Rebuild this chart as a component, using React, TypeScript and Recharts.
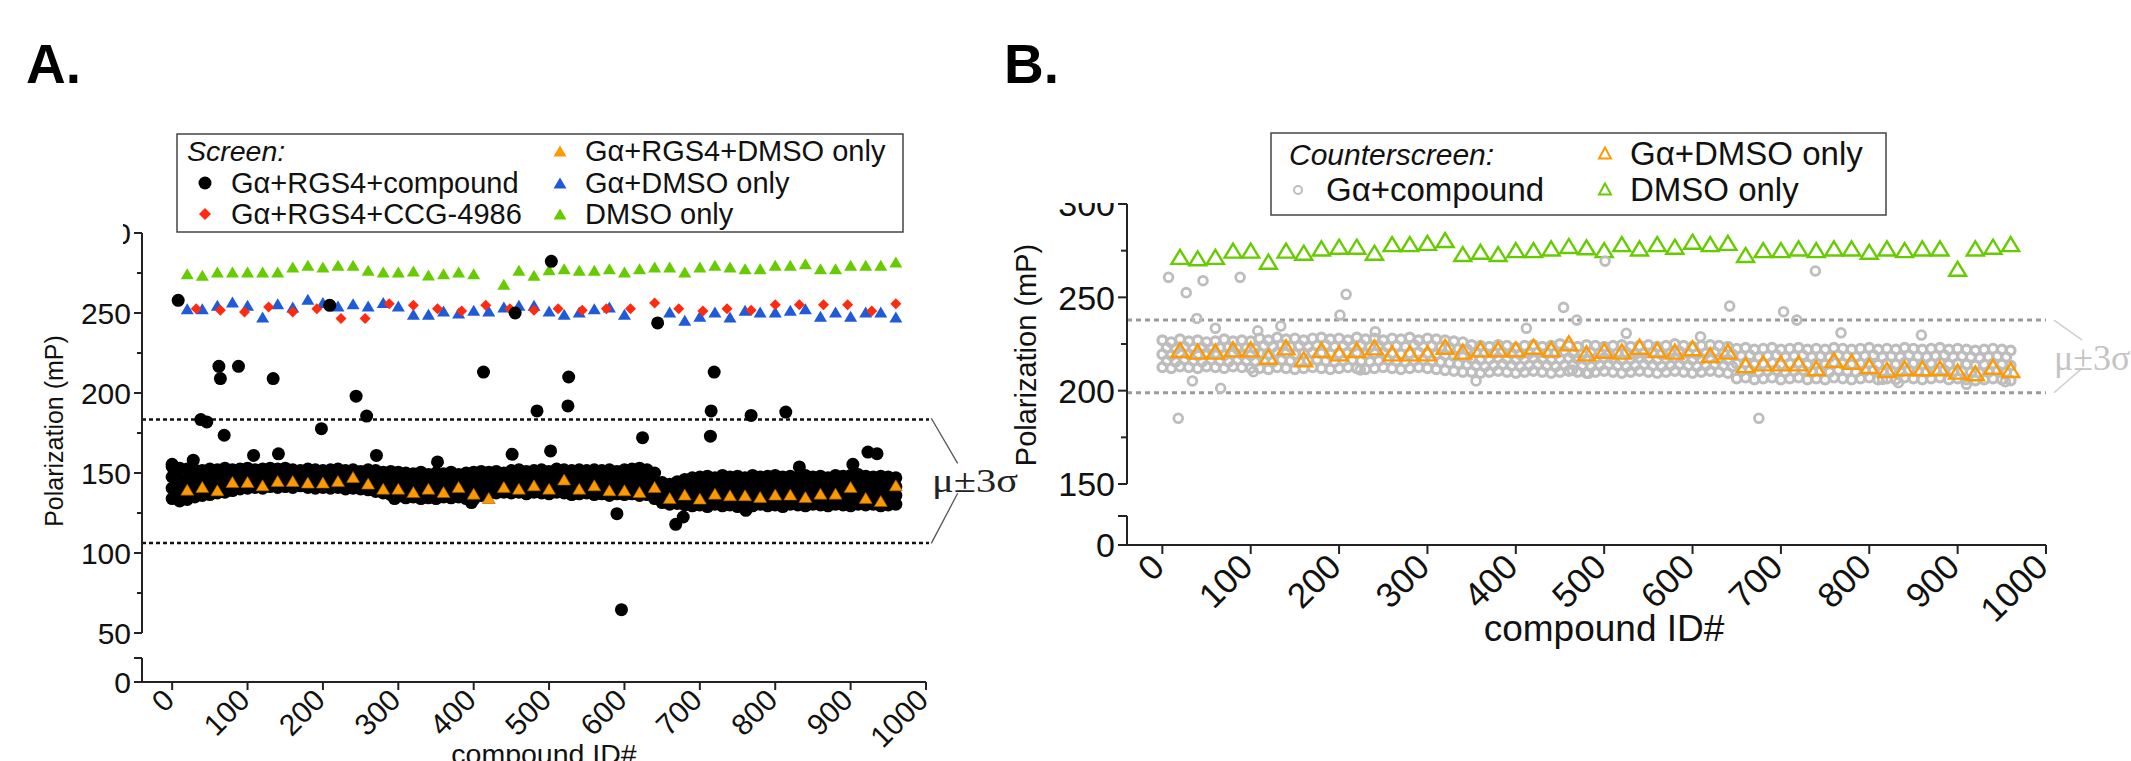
import { ScatterChart, Scatter, XAxis, YAxis, ReferenceLine } from "recharts"

const FONT = '"Liberation Sans", Arial, Helvetica, sans-serif'
const SERIF = '"Liberation Serif", "Times New Roman", serif'

// ---------- shared ----------
const xTicks = [0, 100, 200, 300, 400, 500, 600, 700, 800, 900, 1000]
const bandIds = [0, 10, 20, 30, 40, 50, 60, 70, 80, 90, 100, 110, 120, 130, 140, 150, 160, 170, 180, 190, 200, 210, 220, 230, 240, 250, 260, 270, 280, 290, 300, 310, 320, 330, 340, 350, 360, 370, 380, 390, 400, 410, 420, 430, 440, 450, 460, 470, 480, 490, 500, 510, 520, 530, 540, 550, 560, 570, 580, 590, 600, 610, 620, 630, 640, 650, 660, 670, 680, 690, 700, 710, 720, 730, 740, 750, 760, 770, 780, 790, 800, 810, 820, 830, 840, 850, 860, 870, 880, 890, 900, 910, 920, 930, 940, 950, 960]
const bandIdsHalf = [5, 15, 25, 35, 45, 55, 65, 75, 85, 95, 105, 115, 125, 135, 145, 155, 165, 175, 185, 195, 205, 215, 225, 235, 245, 255, 265, 275, 285, 295, 305, 315, 325, 335, 345, 355, 365, 375, 385, 395, 405, 415, 425, 435, 445, 455, 465, 475, 485, 495, 505, 515, 525, 535, 545, 555, 565, 575, 585, 595, 605, 615, 625, 635, 645, 655, 665, 675, 685, 695, 705, 715, 725, 735, 745, 755, 765, 775, 785, 795, 805, 815, 825, 835, 845, 855, 865, 875, 885, 895, 905, 915, 925, 935, 945, 955]
const ids20 = [20, 40, 60, 80, 100, 120, 140, 160, 180, 200, 220, 240, 260, 280, 300, 320, 340, 360, 380, 400, 420, 440, 460, 480, 500, 520, 540, 560, 580, 600, 620, 640, 660, 680, 700, 720, 740, 760, 780, 800, 820, 840, 860, 880, 900, 920, 940, 960]

// ---------- panel A: screen ----------
const yTicksA = [50, 75, 100, 125, 150, 175, 200, 225, 250, 275, 300]
const yLabelsA = [50, 100, 150, 200, 250, 300]
const sigmaA = [183.4, 106.3]

const greenIdsA = [20, 40, 60, 80, 100, 120, 140, 160, 180, 200, 220, 240, 260, 280, 300, 320, 340, 360, 380, 400, 440, 460, 480, 500, 520, 540, 560, 580, 600, 620, 640, 660, 680, 700, 720, 740, 760, 780, 800, 820, 840, 860, 880, 900, 920, 940, 960]
const greenA = [274.6, 273.6, 275.6, 275.6, 275.6, 275.6, 275.6, 278.7, 279.8, 278.7, 279.8, 279.8, 276.7, 275.6, 275.6, 276.3, 273.8, 274.6, 275.6, 274.6, 267.9, 276.7, 273.6, 277.1, 277.7, 276.7, 276.7, 277.7, 275.6, 277.7, 278.7, 278.7, 275.6, 278.7, 279.8, 278.7, 277.7, 277.7, 279.8, 279.8, 280.8, 277.7, 277.7, 279.8, 279.8, 279.8, 281.9]

const blueIdsA = [20, 40, 60, 80, 100, 120, 140, 160, 180, 200, 220, 240, 260, 280, 300, 320, 340, 360, 380, 400, 420, 440, 460, 480, 500, 520, 540, 560, 580, 600, 660, 680, 700, 720, 740, 760, 780, 800, 820, 840, 860, 880, 900, 920, 940, 960]
const blueA = [252.7, 252.7, 254.8, 256.9, 254.8, 247.5, 255.8, 253.8, 258.6, 256.5, 254.4, 255.8, 254.4, 256.5, 254.4, 249.2, 249.2, 251.3, 250, 251.7, 251.3, 253.8, 254.8, 254.8, 251.3, 249.2, 250.6, 252.7, 253.8, 249.2, 250.6, 245.4, 247.9, 250.6, 247.5, 251.7, 250.6, 250.6, 251.7, 252.7, 247.9, 250.6, 247.9, 250.6, 250.6, 247.5]

const redIdsA = [32, 64, 96, 128, 160, 192, 224, 256, 288, 320, 352, 384, 416, 448, 480, 512, 544, 576, 608, 640, 672, 704, 736, 768, 800, 832, 864, 896, 928, 960]
const redA = [252.7, 251.7, 250.6, 253.8, 250.6, 252.7, 246.5, 246.5, 255.8, 254.8, 252.7, 251.3, 254.8, 252.7, 251.7, 252.7, 251.7, 252.7, 252.7, 256.3, 252.7, 251.3, 252.7, 251.7, 255.2, 255.2, 255.2, 255.2, 251.3, 255.8]

const orangeA = [139.6, 141.3, 139.2, 144.4, 144.4, 142.3, 145, 145, 144, 144, 145, 147.5, 143.4, 140.2, 140.2, 138.1, 140.2, 138.1, 141.3, 137.1, 134.4, 141.3, 140.2, 142.3, 140.2, 145.9, 140.2, 142.3, 139.2, 139.2, 138.1, 141.3, 134.4, 136.5, 134, 137.1, 136.1, 136.1, 135, 136.5, 136.5, 135, 137.1, 137.1, 141.3, 134.4, 132.5, 142.3]

// dense band of compound wells (four rows read across the band)
const bandTopA = [154, 153, 152.5, 152, 151.5, 152.5, 152, 153, 152, 152.5, 153, 152, 152.5, 153, 152.5, 153, 152, 151.5, 152.5, 152, 151.5, 152, 152.5, 151.5, 152, 151, 152, 151.5, 150.5, 151, 150.5, 150, 149.5, 150.5, 149, 150, 149.5, 150.5, 149, 150, 150.5, 151, 150.5, 151, 150, 151.5, 152, 151, 151.5, 152, 151, 152.5, 152, 151.5, 152, 151.5, 152, 151.5, 152, 151, 152, 152.5, 153, 152, 150, 144, 143, 144.5, 146, 147, 147.5, 148, 147, 148.5, 147.5, 148, 147, 148.5, 147.5, 148, 148.5, 147.5, 148, 147, 148.5, 147.5, 148, 147, 148.5, 148, 148.5, 149, 148, 147.5, 148, 147.5, 147]
const bandUpperA = [147.5, 146, 146, 146.5, 146.5, 147, 147, 148, 147.5, 148, 149, 148.5, 148.5, 149, 148.5, 149, 148.5, 148.5, 148.5, 148, 148, 148, 148.5, 147.5, 148, 147.5, 148, 147, 146, 146, 145.5, 145, 144.5, 145, 144, 144.5, 144.5, 145, 144.5, 144.5, 145, 146, 146, 146.5, 146, 147, 147.5, 146.5, 147, 147, 146.5, 147.5, 147, 146.5, 147, 147, 147, 146.5, 146.5, 146.5, 147, 147.5, 147.5, 147, 144.5, 140, 139, 140, 140.5, 141, 141.5, 141.5, 141.5, 142, 141.5, 141.5, 141.5, 142, 142, 142, 142, 141, 142, 141.5, 142, 142, 142, 141, 142.5, 142, 142, 143, 142, 142, 142, 141.5, 141.5]
const bandLowerA = [140.5, 139.5, 140, 141, 141, 142, 142.5, 143, 143.5, 144, 144.5, 144.5, 144.5, 145.5, 145, 145.5, 144.5, 145, 145, 144.5, 144.5, 144.5, 145, 144, 144.5, 143.5, 143.5, 143, 142, 141.5, 140.5, 139.5, 140, 139.5, 139.5, 139.5, 140, 140, 139.5, 139.5, 139, 141, 141.5, 142, 142, 142, 142.5, 141.5, 142.5, 142.5, 141.5, 143, 142.5, 141.5, 142, 142, 141.5, 142, 141.5, 141.5, 141.5, 142, 141.5, 141.5, 139.5, 135.5, 134.5, 135.5, 135.5, 135.5, 136, 135.5, 136, 136, 136, 135.5, 135.5, 136, 136, 135.5, 136, 135.5, 136.5, 135.5, 136, 136, 136, 135.5, 136.5, 136, 136, 136.5, 136, 136, 135.5, 136, 136]
const bandBottomA = [134, 132.5, 133.5, 135, 136, 136.5, 137.5, 138, 139, 140, 140.5, 141, 140.5, 141.5, 141, 141.5, 141, 142, 141, 140.5, 141, 140.5, 141, 140, 140.5, 140, 139.5, 138.5, 137.5, 136.5, 135.5, 134.5, 135, 134, 134.5, 134, 135, 134.5, 135, 134, 133.5, 136, 137, 137.5, 138, 137.5, 138, 137, 138, 137.5, 137, 138, 137.5, 136.5, 137, 137.5, 136.5, 137, 136, 137, 136.5, 137, 136, 136.5, 134, 131.5, 130.5, 131, 130, 129.5, 130, 129, 130.5, 129.5, 130, 129, 130, 129.5, 130.5, 129.5, 130, 129, 130.5, 130, 129.5, 130.5, 130, 129.5, 130.5, 130, 129.5, 130.5, 130, 130.5, 129.5, 130, 130.5]

const hitIdsA = [0, 8, 28, 38, 46, 62, 64, 69, 88, 108, 134, 141, 198, 209, 244, 258, 271, 295, 352, 397, 413, 451, 455, 484, 502, 503, 525, 526, 590, 596, 624, 644, 668, 678, 714, 715, 719, 761, 768, 814, 832, 903, 923, 935]
const hitsA = [155.4, 257.9, 158, 183.4, 181.9, 216.7, 209, 173.6, 216.7, 161, 209, 162, 177.7, 254.8, 198, 185.6, 161, 134, 156.9, 131.5, 213.1, 161.7, 250, 188.8, 163.8, 282.3, 191.9, 210, 124.6, 64.6, 172.1, 243.8, 117.9, 122.5, 173, 188.8, 213.1, 126.7, 186, 188.1, 153.8, 155.4, 163.1, 162.1]

// ---------- panel B: counterscreen ----------
const yTicksB = [150, 175, 200, 225, 250, 275, 300]
const yLabelsB = [150, 200, 250, 300]
const sigmaB = [237.8, 198.9]

const greenB = [271.7, 270.9, 271.7, 275, 275, 269.1, 275, 273.9, 276.2, 277.1, 277.1, 273.9, 278.5, 278.5, 279.2, 280.7, 273.2, 274.4, 273.2, 275.3, 275.3, 276.2, 277.5, 276.8, 275.3, 278.5, 276.2, 278.5, 277.1, 279.8, 278.5, 279.2, 272.7, 275.3, 275.3, 276.2, 275.3, 276.2, 276.2, 274.4, 276.2, 275.3, 276.2, 276.2, 265.3, 276.2, 277.1, 278.5]
const orangeB = [221.8, 220.9, 220.9, 222.1, 222.1, 218.2, 223.2, 216.8, 221.8, 220, 221.8, 223.2, 220, 220, 220, 223.5, 220.9, 222.1, 222.1, 222.1, 223.5, 222.1, 225.4, 220, 221.4, 220.9, 223.5, 221.8, 220.9, 222.7, 219.1, 220.9, 213.7, 214.6, 214.6, 214.6, 212, 216.4, 215.5, 213.2, 211.1, 212, 212, 212, 210.2, 209.3, 212.8, 211.1]

const bandRow1B = [227, 226, 227.5, 226.5, 227, 226, 226.5, 227.5, 226.5, 227, 226.5, 228, 227, 228.5, 227.5, 228, 227, 228, 228.5, 227.5, 228, 227, 228.5, 227.5, 228, 227, 228, 227.5, 228.5, 227, 228, 227.5, 227, 226.5, 226, 224.5, 224, 223.5, 224.5, 224, 223, 224, 224.5, 223.5, 224, 225, 224, 223.5, 224.5, 224, 223.5, 224, 224.5, 223.5, 224, 224.5, 223.5, 224, 225, 224, 223.5, 224, 224.5, 224, 223.5, 222.5, 223, 222, 222.5, 223, 222, 222.5, 223, 222, 222.5, 222, 223, 222.5, 222, 222.5, 223, 222, 222.5, 222, 223, 222.5, 222, 222.5, 223, 222, 222.5, 222, 221.5, 222, 222.5, 222, 221.5]
const bandRow2B = [223, 222.5, 223.5, 222.5, 223, 222.5, 223, 223.5, 222.5, 223, 222.5, 224, 223.5, 224.5, 223.5, 224, 223.5, 224, 224.5, 223.5, 224, 223.5, 224.5, 223.5, 224, 223.5, 224, 223.5, 224.5, 223.5, 224, 223.5, 223, 222.5, 222, 220.5, 220, 220, 220.5, 220, 219.5, 220, 220.5, 220, 220, 221, 220, 219.5, 220.5, 220, 219.5, 220, 220.5, 219.5, 220, 220.5, 219.5, 220, 221, 220, 219.5, 220, 220.5, 220, 219.5, 218.5, 219, 218, 218.5, 219, 218, 218.5, 219, 218, 218.5, 218, 219, 218.5, 218, 218.5, 219, 218, 218.5, 218, 219, 218.5, 218, 218.5, 219, 218, 218.5, 218, 217.5, 218, 218.5, 218]
const bandRow3B = [219.5, 219, 220, 219.5, 219, 220, 219.5, 219, 220, 219.5, 219, 220, 219.5, 220.5, 220, 219.5, 220, 220.5, 220, 219.5, 220, 220.5, 220, 219.5, 220, 220.5, 220, 219.5, 220, 220.5, 220, 219.5, 219, 218.5, 218, 217, 216.5, 217, 217.5, 217, 216.5, 217, 217.5, 217, 216.5, 217, 217.5, 217, 216.5, 217, 217.5, 217, 216.5, 217, 217.5, 217, 216.5, 217, 217.5, 217, 216.5, 217, 217.5, 217, 216.5, 214.5, 215, 214, 214.5, 215, 214, 214.5, 215, 214, 214.5, 214, 215, 214.5, 214, 214.5, 215, 214, 214.5, 214, 215, 214.5, 214, 214.5, 215, 214, 214.5, 214, 213.5, 214, 214.5, 214, 213.5]
const bandRow4B = [216, 215.5, 216.5, 216, 215.5, 216.5, 216, 215.5, 216.5, 216, 215.5, 216, 215.5, 216.5, 216, 215.5, 216, 216.5, 216, 215.5, 216, 216.5, 216, 215.5, 216, 216.5, 216, 215.5, 216, 216.5, 216, 215.5, 215, 214.5, 214, 213.5, 213, 213.5, 214, 213.5, 213, 213.5, 214, 213.5, 213, 213.5, 214, 213.5, 213, 213.5, 214, 213.5, 213, 213.5, 214, 213.5, 213, 213.5, 214, 213.5, 213, 213.5, 214, 213.5, 213, 210.5, 211, 210, 210.5, 211, 210, 210.5, 211, 210, 210.5, 210, 211, 210.5, 210, 210.5, 211, 210, 210.5, 210, 211, 210.5, 210, 210.5, 211, 210, 210.5, 210, 209.5, 210, 210.5, 210]
const bandRow5B = [212.5, 212, 213, 212.5, 212, 213, 212.5, 212, 213, 212.5, 212, 212, 211.5, 212.5, 212, 211.5, 212, 212.5, 212, 211.5, 212, 212.5, 212, 211.5, 212, 212.5, 212, 211.5, 212, 212.5, 212, 211.5, 211, 210.5, 210, 210, 209.5, 210, 210.5, 210, 209.5, 210, 210.5, 210, 209.5, 210, 210.5, 210, 209.5, 210, 210.5, 210, 209.5, 210, 210.5, 210, 209.5, 210, 210.5, 210, 209.5, 210, 210.5, 210, 209.5, 206.5, 207, 206, 206.5, 207, 206, 206.5, 207, 206, 206.5, 206, 207, 206.5, 206, 206.5, 207, 206, 206.5, 206, 207, 206.5, 206, 206.5, 207, 206, 206.5, 206, 205.5, 206, 206.5, 206, 205.5]

const hitIdsB = [7, 18, 27, 34, 39, 46, 60, 66, 88, 103, 108, 134, 201, 208, 224, 241, 355, 412, 454, 464, 469, 482, 501, 525, 609, 642, 675, 703, 718, 739, 768, 815, 833, 859, 910, 954]
const hitsB = [260.7, 185.2, 252.5, 205.2, 238.7, 258.9, 233.4, 201.3, 260.7, 210.2, 232.1, 234.6, 240.5, 251.6, 211.1, 231.6, 205.2, 233.4, 244.6, 211, 237.8, 209.3, 269.4, 230.7, 228.9, 245.3, 185.2, 242.3, 237.8, 264.1, 231, 206, 204.3, 229.8, 203.4, 204.8]

// ---------- helpers ----------
const pts = (xs: number[], ys: number[]) => xs.map((x, i) => ({ x, y: ys[i] }))

const dot = (r: number, fill: string) => (p: any) => <circle cx={p.cx} cy={p.cy} r={r} fill={fill} />
const ring = (r: number, stroke: string, sw: number) => (p: any) => (
    <circle cx={p.cx} cy={p.cy} r={r} fill="none" stroke={stroke} strokeWidth={sw} />
)
const nothing = () => <g />
const triPath = (cx: number, cy: number, w: number, h: number) =>
    `${cx},${cy - h / 2} ${cx + w / 2},${cy + h / 2} ${cx - w / 2},${cy + h / 2}`
const tri = (w: number, h: number, fill: string, stroke = "none", sw = 0) => (p: any) => (
    <polygon points={triPath(p.cx, p.cy, w, h)} fill={fill} stroke={stroke} strokeWidth={sw} />
)
const diamond = (s: number, fill: string) => (p: any) => (
    <polygon points={`${p.cx},${p.cy - s / 2} ${p.cx + s / 2},${p.cy} ${p.cx},${p.cy + s / 2} ${p.cx - s / 2},${p.cy}`} fill={fill} />
)

const makeYTick = (labels: number[], fs: number, major: number, minor: number) => (props: any) => {
    const { x, y, payload } = props
    const isMajor = labels.includes(payload.value)
    return (
        <g>
            <line x1={x - (isMajor ? major : minor)} x2={x} y1={y} y2={y} stroke="#222" strokeWidth={2} />
            {isMajor && (
                <text x={x - major - 3} y={y} dy="0.36em" textAnchor="end" fontSize={fs} fontFamily={FONT} fill="#111">
                    {payload.value}
                </text>
            )}
        </g>
    )
}

const makeXTick = (fs: number, dx: number, dy: number, len: number) => (props: any) => {
    const { x, y, payload } = props
    const tx = x + dx
    const ty = y + dy
    return (
        <g>
            <line x1={x} x2={x} y1={y} y2={y + len} stroke="#222" strokeWidth={2} />
            <text x={tx} y={ty} transform={`rotate(-45 ${tx} ${ty})`} textAnchor="end" fontSize={fs} fontFamily={FONT} fill="#111">
                {payload.value}
            </text>
        </g>
    )
}

const axisLine = { stroke: "#222", strokeWidth: 2 }

function Panel({ left, top, width, height, margin, children }: any) {
    return (
        <div style={{ position: "absolute", left, top, width, height }}>
            <ScatterChart width={width} height={height} margin={margin}>
                {children}
            </ScatterChart>
        </div>
    )
}

export default function App() {
    const yTickA = makeYTick(yLabelsA, 30, 8, 5)
    const yTickB = makeYTick(yLabelsB, 34, 9, 6)
    return (
        <div style={{ position: "absolute", left: 0, top: 0, width: 2131, height: 761, background: "#fff", overflow: "hidden" }}>
            {/* ---- A upper (50-300) ---- */}
            <Panel left={0} top={0} width={1000} height={655} margin={{ top: 233, right: 74, bottom: 22, left: 0 }}>
                <XAxis type="number" dataKey="x" domain={[-40, 1000]} ticks={xTicks} hide />
                <YAxis type="number" dataKey="y" domain={[50, 300]} ticks={yTicksA} interval={0} width={142} tickSize={0} tickMargin={0} tickLine={false} axisLine={axisLine} tick={yTickA} allowDataOverflow />
                {sigmaA.map((v) => (
                    <ReferenceLine key={v} segment={[{ x: -40, y: v }, { x: 1004, y: v }]} stroke="#111" strokeWidth={2.5} strokeDasharray="4 3" ifOverflow="visible" />
                ))}
                <ReferenceLine segment={[{ x: 1007, y: 184.2 }, { x: 1042, y: 156 }]} stroke="#555" strokeWidth={1.3} ifOverflow="visible" />
                <ReferenceLine segment={[{ x: 1042, y: 137.3 }, { x: 1007, y: 106 }]} stroke="#555" strokeWidth={1.3} ifOverflow="visible" />
                <Scatter data={pts(greenIdsA, greenA)} shape={tri(13, 11, "#66CC00")} isAnimationActive={false} />
                <Scatter data={pts(blueIdsA, blueA)} shape={tri(13, 11, "#1F5BD8")} isAnimationActive={false} />
                <Scatter data={pts(redIdsA, redA)} shape={diamond(11, "#FF2A10")} isAnimationActive={false} />
                <Scatter data={[...pts(bandIds, bandTopA), ...pts(bandIds, bandUpperA), ...pts(bandIds, bandLowerA), ...pts(bandIds, bandBottomA)]} shape={dot(6.5, "#000")} isAnimationActive={false} />
                <Scatter data={pts(hitIdsA, hitsA)} shape={dot(6.5, "#000")} isAnimationActive={false} />
                <Scatter data={pts(ids20, orangeA)} shape={tri(13, 11, "#FF9900", "#9a5a00", 0.6)} isAnimationActive={false} />
            </Panel>
            {/* ---- A lower (0 segment + x axis) ---- */}
            <Panel left={0} top={600} width={1000} height={161} margin={{ top: 58, right: 74, bottom: 0, left: 0 }}>
                <XAxis type="number" dataKey="x" domain={[-40, 1000]} ticks={xTicks} interval={0} height={79} tickSize={0} tickMargin={0} tickLine={false} axisLine={axisLine} tick={makeXTick(30, 4, 20, 8)} allowDataOverflow />
                <YAxis type="number" dataKey="y" domain={[0, 15]} ticks={[0, 15]} interval={0} width={142} tickSize={0} tickMargin={0} tickLine={false} axisLine={axisLine} tick={makeYTick([0], 30, 8, 8)} allowDataOverflow />
                <Scatter data={pts(ids20, orangeA)} shape={nothing} isAnimationActive={false} />
            </Panel>

            {/* ---- B upper (150-300) ---- */}
            <Panel left={1000} top={0} width={1131} height={520} margin={{ top: 204, right: 85, bottom: 36, left: 0 }}>
                <XAxis type="number" dataKey="x" domain={[-40, 1000]} ticks={xTicks} hide />
                <YAxis type="number" dataKey="y" domain={[150, 300]} ticks={yTicksB} interval={0} width={127} tickSize={0} tickMargin={0} tickLine={false} axisLine={axisLine} tick={yTickB} allowDataOverflow />
                {sigmaB.map((v) => (
                    <ReferenceLine key={v} segment={[{ x: -40, y: v }, { x: 1000, y: v }]} stroke="#9a9a9a" strokeWidth={3} strokeDasharray="5 4" ifOverflow="visible" />
                ))}
                <ReferenceLine segment={[{ x: 1009, y: 237.8 }, { x: 1041, y: 227.1 }]} stroke="#cfcfcf" strokeWidth={1.5} ifOverflow="visible" />
                <ReferenceLine segment={[{ x: 1041, y: 212.1 }, { x: 1009, y: 198.9 }]} stroke="#cfcfcf" strokeWidth={1.5} ifOverflow="visible" />
                <Scatter data={pts(ids20, greenB)} shape={tri(17, 14, "none", "#66CC00", 2.4)} isAnimationActive={false} />
                <Scatter data={[...pts(bandIds, bandRow1B), ...pts(bandIdsHalf, bandRow2B), ...pts(bandIds, bandRow3B), ...pts(bandIdsHalf, bandRow4B), ...pts(bandIds, bandRow5B)]} shape={ring(4.4, "#BDBDBD", 3.2)} isAnimationActive={false} />
                <Scatter data={pts(hitIdsB, hitsB)} shape={ring(4.4, "#BDBDBD", 2.8)} isAnimationActive={false} />
                <Scatter data={pts(ids20, orangeB)} shape={tri(17, 14, "none", "#FF9900", 2.4)} isAnimationActive={false} />
            </Panel>
            {/* ---- B lower ---- */}
            <Panel left={1000} top={480} width={1131} height={281} margin={{ top: 36, right: 85, bottom: 0, left: 0 }}>
                <XAxis type="number" dataKey="x" domain={[-40, 1000]} ticks={xTicks} interval={0} height={216} tickSize={0} tickMargin={0} tickLine={false} axisLine={axisLine} tick={makeXTick(35, 4, 24, 9)} allowDataOverflow />
                <YAxis type="number" dataKey="y" domain={[0, 15]} ticks={[0, 15]} interval={0} width={127} tickSize={0} tickMargin={0} tickLine={false} axisLine={axisLine} tick={makeYTick([0], 34, 9, 9)} allowDataOverflow />
                <Scatter data={pts(ids20, orangeB)} shape={nothing} isAnimationActive={false} />
            </Panel>

            {/* ---- annotations, legends ---- */}
            <svg width={2131} height={761} style={{ position: "absolute", left: 0, top: 0, pointerEvents: "none" }}>
                {/* figure crop hiding the top tick labels */}
                <rect x={0} y={200} width={123} height={45} fill="#fff" />
                <rect x={1030} y={170} width={95} height={33} fill="#fff" />

                <text x={26} y={83} fontSize={55} fontWeight="bold" fontFamily={FONT} fill="#000">A.</text>
                <text x={1004} y={83} fontSize={55} fontWeight="bold" fontFamily={FONT} fill="#000">B.</text>

                <text transform="translate(63 431) rotate(-90)" textAnchor="middle" fontSize={25} fontFamily={FONT} fill="#111">Polarization (mP)</text>
                <text transform="translate(1036 355) rotate(-90)" textAnchor="middle" fontSize={29} fontFamily={FONT} fill="#111">Polarization (mP)</text>
                <text x={544} y={764} textAnchor="middle" fontSize={28.5} fontFamily={FONT} fill="#111">compound ID#</text>
                <text x={1604} y={641} textAnchor="middle" fontSize={37} fontFamily={FONT} fill="#111">compound ID#</text>

                <text x={932} y={492} fontSize={33} textLength={86} lengthAdjust="spacingAndGlyphs" fontFamily={SERIF} fill="#222">μ±3σ</text>
                <text x={2054} y={370} fontSize={36} fontFamily={SERIF} fill="#c4c4c4">μ±3σ</text>

                {/* legend A */}
                <rect x={177} y={134} width={726} height={98} fill="#fff" stroke="#444" strokeWidth={1.5} />
                <text x={187} y={161} fontSize={28.5} fontStyle="italic" fontFamily={FONT} fill="#111">Screen:</text>
                <circle cx={205} cy={183} r={6.5} fill="#000" />
                <text x={231} y={193} fontSize={29} fontFamily={FONT} fill="#111">Gα+RGS4+compound</text>
                <polygon points={`205,208 211,214 205,220 199,214`} fill="#FF2A10" />
                <text x={231} y={224} fontSize={29} fontFamily={FONT} fill="#111">Gα+RGS4+CCG-4986</text>
                <polygon points={triPath(560, 151, 13, 11)} fill="#FF9900" />
                <text x={585} y={161} fontSize={29} fontFamily={FONT} fill="#111">Gα+RGS4+DMSO only</text>
                <polygon points={triPath(560, 183, 13, 11)} fill="#1F5BD8" />
                <text x={585} y={193} fontSize={29} fontFamily={FONT} fill="#111">Gα+DMSO only</text>
                <polygon points={triPath(560, 214, 13, 11)} fill="#66CC00" />
                <text x={585} y={224} fontSize={29} fontFamily={FONT} fill="#111">DMSO only</text>

                {/* legend B */}
                <rect x={1271} y={133} width={615} height={82} fill="#fff" stroke="#444" strokeWidth={1.5} />
                <text x={1289} y={165} fontSize={30} fontStyle="italic" fontFamily={FONT} fill="#111">Counterscreen:</text>
                <circle cx={1298} cy={190} r={4} fill="none" stroke="#BDBDBD" strokeWidth={2} />
                <text x={1326} y={201} fontSize={33} fontFamily={FONT} fill="#111">Gα+compound</text>
                <polygon points={triPath(1605, 153, 12, 11)} fill="none" stroke="#FF9900" strokeWidth={2} />
                <text x={1630} y={165} fontSize={33} fontFamily={FONT} fill="#111">Gα+DMSO only</text>
                <polygon points={triPath(1605, 189, 12, 11)} fill="none" stroke="#66CC00" strokeWidth={2} />
                <text x={1630} y={201} fontSize={33} fontFamily={FONT} fill="#111">DMSO only</text>
            </svg>
        </div>
    )
}
